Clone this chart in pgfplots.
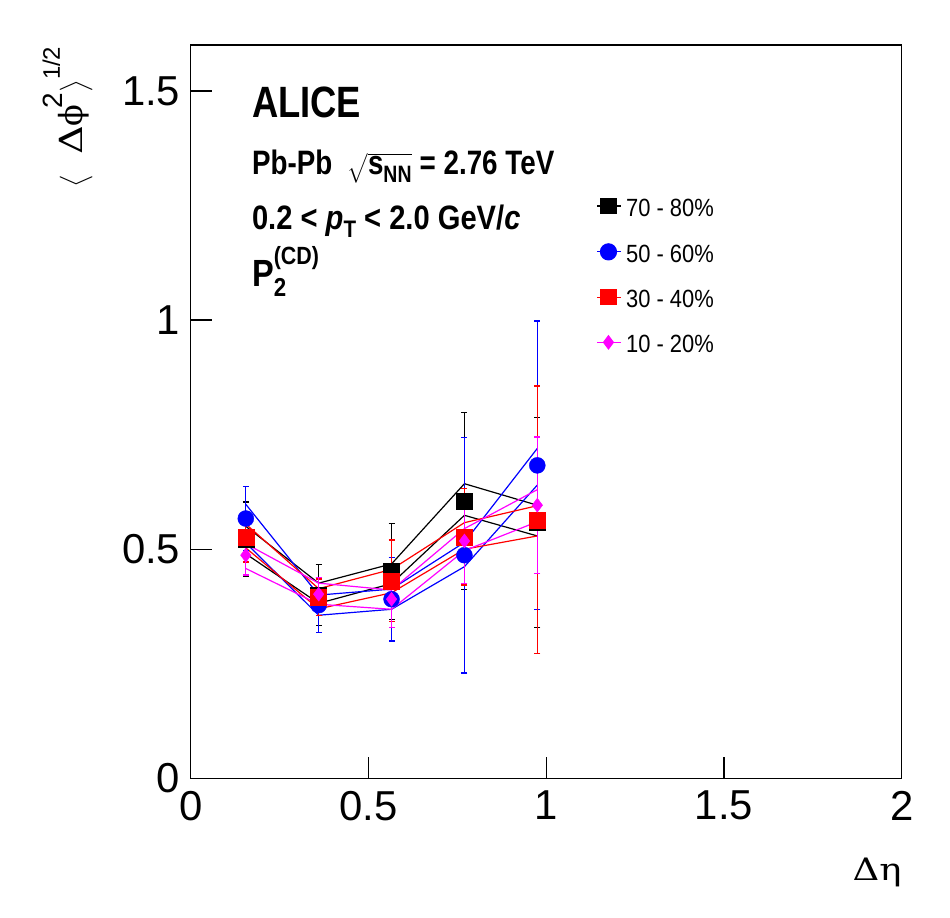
\documentclass[border=0pt]{standalone}
\usepackage{amsmath}
\usepackage{fontspec}
\setmainfont{Liberation Sans}
\newfontfamily\grk{DejaVu Serif}
\usepackage{pgfplots}
\pgfplotsset{compat=1.18}
\definecolor{rblue}{RGB}{0,0,255}
\definecolor{rred}{RGB}{255,0,0}
\definecolor{rmag}{RGB}{255,0,255}
\begin{document}
\begin{tikzpicture}
\begin{axis}[
  scale only axis, width=711bp, height=733.3bp,
  xmin=0, xmax=2, ymin=0, ymax=1.6,
  xtick={0,0.5,1,1.5,2}, ytick={0,0.5,1,1.5},
  xticklabels={0,0.5,1,1.5,2}, yticklabels={0,0.5,1,1.5},
  xtick pos=bottom, ytick pos=left, tick align=inside,
  major tick length=21bp, minor tick num=0,
  axis line style={line width=1.3bp}, tick style={line width=1.3bp, black},
  ticklabel style={font=\fontsize{42}{44}\selectfont},
  xticklabel style={yshift=-9bp},
  yticklabel style={xshift=-7bp},
  /pgf/number format/assume math mode=true,
  clip=false,
  xlabel={\scalebox{1.2}[1]{\grk Δη}},
  xlabel style={at={(axis description cs:1,0)}, anchor=north east, inner sep=0pt, yshift=-79bp, font=\fontsize{31}{33}\selectfont},
  ylabel={\scalebox{1.1}{$\big\langle$}\hspace{20bp}{\grk\scalebox{1.25}[1]{Δ}ϕ}\hspace{-4bp}\raisebox{20bp}{\fontsize{28}{28}\selectfont 2}\scalebox{1.1}{$\big\rangle$}\raisebox{23bp}{\fontsize{24}{24}\selectfont 1/2}},
  ylabel style={at={(axis description cs:-0.1515,0.998)}, anchor=base east, inner sep=0pt, rotate=0, font=\fontsize{32}{35}\selectfont},
  legend style={draw=none, fill=none, at={(rel axis cs:0.571,0.791)}, anchor=north west,
    inner sep=0pt, row sep=26.8bp, column sep=4bp, nodes={inner sep=0pt, text height=18bp, text depth=0.4bp},
    font=\fontsize{25}{25}\selectfont},
  legend cell align=left,
  legend image code/.code={\draw[#1] (0bp,1.8bp) -- (24bp,1.8bp); \draw[#1] plot coordinates {(11bp,1.8bp)};},
  error bars/error bar style={line width=1.2bp},
  error bars/error mark options={rotate=90, mark size=3bp, line width=1.2bp},
]
% --- legend entries
\addlegendimage{black, line width=1.2bp, mark=square*, mark size=7.5bp}
\addlegendentry{\scalebox{0.88}[1]{70 - 80\%}}
\addlegendimage{rblue, line width=1.2bp, mark=*, mark size=8bp}
\addlegendentry{\scalebox{0.88}[1]{50 - 60\%}}
\addlegendimage{rred, line width=1.2bp, mark=square*, mark size=7.5bp}
\addlegendentry{\scalebox{0.88}[1]{30 - 40\%}}
\addlegendimage{rmag, line width=1.2bp, mark=diamond*, mark size=6.5bp}
\addlegendentry{\scalebox{0.88}[1]{10 - 20\%}}

% --- systematic band outlines
\addplot[black, line width=1.2bp, forget plot] coordinates {(0.155,0.550) (0.36,0.426) (0.565,0.468) (0.77,0.643) (0.975,0.596)};
\addplot[black, line width=1.2bp, forget plot] coordinates {(0.155,0.490) (0.36,0.382) (0.565,0.425) (0.77,0.574) (0.975,0.529)};
\addplot[rblue, line width=1.2bp, forget plot] coordinates {(0.155,0.598) (0.36,0.400) (0.565,0.413) (0.77,0.515) (0.975,0.720)};
\addplot[rblue, line width=1.2bp, forget plot] coordinates {(0.155,0.514) (0.36,0.356) (0.565,0.369) (0.77,0.462) (0.975,0.640)};
\addplot[rred, line width=1.2bp, forget plot] coordinates {(0.155,0.555) (0.36,0.414) (0.565,0.456) (0.77,0.558) (0.975,0.595)};
\addplot[rred, line width=1.2bp, forget plot] coordinates {(0.155,0.503) (0.36,0.370) (0.565,0.405) (0.77,0.500) (0.975,0.529)};
\addplot[rmag, line width=1.2bp, forget plot] coordinates {(0.155,0.512) (0.36,0.426) (0.565,0.411) (0.77,0.545) (0.975,0.630)};
\addplot[rmag, line width=1.2bp, forget plot] coordinates {(0.155,0.458) (0.36,0.380) (0.565,0.369) (0.77,0.497) (0.975,0.560)};

% --- data points with statistical errors
\addplot[black, only marks, mark=square*, mark size=8bp, forget plot,
  error bars/.cd, y dir=both, y explicit] coordinates {
  (0.155,0.522) +- (0,0.081)
  (0.36,0.400) +- (0,0.066)
  (0.565,0.452) +- (0,0.105)
  (0.77,0.605) +- (0,0.193)
  (0.975,0.559) +- (0,0.229)
};
\addplot[rblue, only marks, mark=*, mark size=8bp, forget plot,
  error bars/.cd, y dir=both, y explicit] coordinates {
  (0.155,0.567) +- (0,0.070)
  (0.36,0.378) +- (0,0.060)
  (0.565,0.391) +- (0,0.091)
  (0.77,0.487) +- (0,0.257)
  (0.975,0.683) +- (0,0.315)
};
\addplot[rred, only marks, mark=square*, mark size=8bp, forget plot,
  error bars/.cd, y dir=both, y explicit] coordinates {
  (0.155,0.527) +- (0,0.055)
  (0.36,0.395) +- (0,0.040)
  (0.565,0.431) +- (0,0.089)
  (0.77,0.527) +- (0,0.105)
  (0.975,0.564) +- (0,0.292)
};
\addplot[rmag, only marks, mark=diamond*, mark size=7bp, forget plot,
  error bars/.cd, y dir=both, y explicit] coordinates {
  (0.155,0.487) +- (0,0.043)
  (0.36,0.402) +- (0,0.036)
  (0.565,0.391) +- (0,0.062)
  (0.77,0.518) +- (0,0.093)
  (0.975,0.596) +- (0,0.149)
};

% --- annotations
\node[anchor=base west, inner sep=0pt] at (axis cs:0.172,1.443)
  {\scalebox{0.83}[1]{\fontsize{44}{44}\selectfont\bfseries ALICE}};
\node[anchor=base west, inner sep=0pt] at (axis cs:0.172,1.317)
  {\scalebox{0.82}[1]{\fontsize{34}{34}\selectfont\bfseries Pb-Pb\ \ $\sqrt{\text{\bfseries s}_{\text{\bfseries NN}}}$ = 2.76 TeV}};
\node[anchor=base west, inner sep=0pt] at (axis cs:0.172,1.197)
  {\scalebox{0.86}[1]{\fontsize{34}{34}\selectfont\bfseries 0.2 < \textit{p}\raisebox{-8bp}{\fontsize{24}{24}\selectfont T} < 2.0 GeV/\textit{c}}};
\node[anchor=base west, inner sep=0pt] at (axis cs:0.172,1.073)
  {\scalebox{0.86}[1]{\fontsize{38}{38}\selectfont\bfseries P\rlap{\raisebox{22bp}{\fontsize{25}{25}\selectfont (CD)}}\raisebox{-10bp}{\fontsize{26}{26}\selectfont 2}}};
\end{axis}
\path ([xshift=-190.7bp, yshift=-138.7bp]current axis.south west) rectangle ([xshift=48.3bp, yshift=45.1bp]current axis.north east);
\end{tikzpicture}
\end{document}
